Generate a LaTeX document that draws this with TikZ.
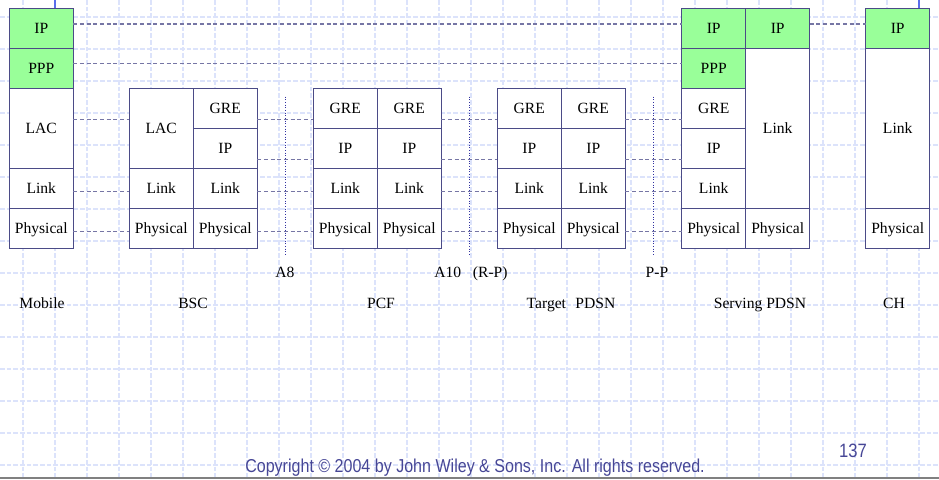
\documentclass[tikz,border=0pt]{standalone}
\usepackage{fontspec}
\setmainfont{Liberation Serif}
\newfontfamily\copyfont[FakeStretch=0.86]{Liberation Sans}
\usetikzlibrary{positioning}

\definecolor{boxline}{RGB}{75,75,135}
\definecolor{ipgreen}{RGB}{153,255,153}
\definecolor{linkgray}{RGB}{118,118,165}
\definecolor{ifblue}{RGB}{50,50,160}
\definecolor{gridblue}{RGB}{220,227,251}
\definecolor{topblue}{RGB}{90,110,235}
\definecolor{copyblue}{RGB}{70,70,150}

\begin{document}
\begin{tikzpicture}[
  x=0.75pt, y=-0.75pt,
  font=\rmfamily\fontsize{11.7}{14}\selectfont,
  stackbox/.style={draw=boxline, fill=white, line width=0.9pt, minimum width=48pt,
    minimum height=30pt, inner sep=0pt, outer sep=0pt, text height=7.7pt, text depth=0pt,
    font=\rmfamily\fontsize{11.7}{14}\selectfont},
  greenbox/.style={stackbox, fill=ipgreen},
  tallbox/.style={stackbox, minimum height=60pt},
  deepbox/.style={stackbox, minimum height=120pt},
  peer/.style={draw=linkgray, line width=0.95pt, dash pattern=on 3pt off 2pt},
  iface/.style={draw=ifblue, line width=0.7pt, dash pattern=on 0.7pt off 1.3pt},
  gridline/.style={draw=gridblue, line width=1.2pt, dash pattern=on 3.5pt off 1.5pt}
]
\useasboundingbox (0,0) rectangle (939,479);

% background grid
\foreach \gx in {0,...,28}
  \draw[gridline] (22.7+32*\gx,0) -- (22.7+32*\gx,479);
\foreach \gy in {0,...,14}
  \draw[gridline] (0,17+32*\gy) -- (939,17+32*\gy);
\draw[topblue, line width=1.5pt] (54.5,0) -- (54.5,8);
\draw[topblue, line width=1.5pt] (919,0) -- (919,8);
\draw[gray, line width=1.5pt] (0,478) -- (939,478);

% Mobile
\node[greenbox] (mIP) at (41.3,28.3) {IP};
\node[greenbox, below=0pt of mIP] (mPPP) {PPP};
\node[tallbox, below=0pt of mPPP] (mLAC) {LAC};
\node[stackbox, below=0pt of mLAC] (mLink) {Link};
\node[stackbox, below=0pt of mLink] (mPhy) {Physical};

% BSC
\node[tallbox] (bLAC) at (161.3,128.3) {LAC};
\node[stackbox, anchor=north west] (bGRE) at (bLAC.north east) {GRE};
\node[stackbox, below=0pt of bGRE] (bIP) {IP};
\node[stackbox, below=0pt of bLAC] (bLink1) {Link};
\node[stackbox, below=0pt of bIP] (bLink2) {Link};
\node[stackbox, below=0pt of bLink1] (bPhy1) {Physical};
\node[stackbox, below=0pt of bLink2] (bPhy2) {Physical};

% PCF
\node[stackbox] (pGRE1) at (345.3,108.3) {GRE};
\node[stackbox, right=0pt of pGRE1] (pGRE2) {GRE};
\node[stackbox, below=0pt of pGRE1] (pIP1) {IP};
\node[stackbox, below=0pt of pGRE2] (pIP2) {IP};
\node[stackbox, below=0pt of pIP1] (pLink1) {Link};
\node[stackbox, below=0pt of pIP2] (pLink2) {Link};
\node[stackbox, below=0pt of pLink1] (pPhy1) {Physical};
\node[stackbox, below=0pt of pLink2] (pPhy2) {Physical};

% Target PDSN
\node[stackbox] (tGRE1) at (529.3,108.3) {GRE};
\node[stackbox, right=0pt of tGRE1] (tGRE2) {GRE};
\node[stackbox, below=0pt of tGRE1] (tIP1) {IP};
\node[stackbox, below=0pt of tGRE2] (tIP2) {IP};
\node[stackbox, below=0pt of tIP1] (tLink1) {Link};
\node[stackbox, below=0pt of tIP2] (tLink2) {Link};
\node[stackbox, below=0pt of tLink1] (tPhy1) {Physical};
\node[stackbox, below=0pt of tLink2] (tPhy2) {Physical};

% Serving PDSN
\node[greenbox] (sIP1) at (713.7,28.3) {IP};
\node[greenbox, right=0pt of sIP1] (sIP2) {IP};
\node[greenbox, below=0pt of sIP1] (sPPP) {PPP};
\node[stackbox, below=0pt of sPPP] (sGRE) {GRE};
\node[stackbox, below=0pt of sGRE] (sIP) {IP};
\node[stackbox, below=0pt of sIP] (sLink1) {Link};
\node[deepbox, below=0pt of sIP2] (sLink2) {Link};
\node[stackbox, below=0pt of sLink1] (sPhy1) {Physical};
\node[stackbox, below=0pt of sLink2] (sPhy2) {Physical};

% CH
\node[greenbox] (cIP) at (897.7,28.3) {IP};
\node[deepbox, below=0pt of cIP] (cLink) {Link};
\node[stackbox, below=0pt of cLink] (cPhy) {Physical};

% peer layers
\draw[peer] ([yshift=3.2pt]mIP.east) -- ([yshift=3.2pt]sIP1.west);
\draw[peer] ([yshift=3.2pt]sIP2.east) -- ([yshift=3.2pt]cIP.west);
\draw[peer] ([yshift=3.75pt]mPPP.east) -- ([yshift=3.75pt]sPPP.west);
\draw[peer] ([yshift=6.75pt]mLAC.east) -- ([yshift=6.75pt]bLAC.west);
\draw[peer] ([yshift=-8.25pt]bGRE.east) -- ([yshift=-8.25pt]pGRE1.west);
\draw[peer] ([yshift=-8.25pt]pGRE2.east) -- ([yshift=-8.25pt]tGRE1.west);
\draw[peer] ([yshift=-8.25pt]tGRE2.east) -- ([yshift=-8.25pt]sGRE.west);
\draw[peer] ([yshift=-8.4pt]bIP.east) -- ([yshift=-8.4pt]pIP1.west);
\draw[peer] ([yshift=-8.4pt]pIP2.east) -- ([yshift=-8.4pt]tIP1.west);
\draw[peer] ([yshift=-8.4pt]tIP2.east) -- ([yshift=-8.4pt]sIP.west);
\draw[peer] ([yshift=-2.5pt]mLink.east) -- ([yshift=-2.5pt]bLink1.west);
\draw[peer] ([yshift=-2.5pt]bLink2.east) -- ([yshift=-2.5pt]pLink1.west);
\draw[peer] ([yshift=-2.5pt]pLink2.east) -- ([yshift=-2.5pt]tLink1.west);
\draw[peer] ([yshift=-2.5pt]tLink2.east) -- ([yshift=-2.5pt]sLink1.west);
\draw[peer] ([yshift=-2.25pt]mPhy.east) -- ([yshift=-2.25pt]bPhy1.west);
\draw[peer] ([yshift=-2.25pt]bPhy2.east) -- ([yshift=-2.25pt]pPhy1.west);
\draw[peer] ([yshift=-2.25pt]pPhy2.east) -- ([yshift=-2.25pt]tPhy1.west);
\draw[peer] ([yshift=-2.25pt]tPhy2.east) -- ([yshift=-2.25pt]sPhy1.west);

% interfaces
\draw[iface] (285.7,96.5) -- (285.7,254.5);
\draw[iface] (469.3,96.5) -- (469.3,254.5);
\draw[iface] (653.3,96.5) -- (653.3,254.5);
\node[anchor=base] (a8) at (285,277) {A8};
\node[anchor=base] (a10) at (471,277) {A10\hspace{0.75em}(R-P)};
\node[anchor=base] (pp) at (657,277) {P-P};

% entities
\node[anchor=base] (mobile) at (42,308.5) {Mobile};
\node[anchor=base] (bsc) at (193,308.5) {BSC};
\node[anchor=base] (pcf) at (381,308.5) {PCF};
\node[anchor=base] (target) at (571,308.5) {Target\hspace{0.6em}PDSN};
\node[anchor=base] (serving) at (760,308.5) {Serving PDSN};
\node[anchor=base] (ch) at (894,308.5) {CH};

\node[anchor=base, text=copyblue, font=\copyfont\fontsize{14.5}{17}\selectfont] (page) at (853,457) {137};
\node[anchor=base, text=copyblue, font=\copyfont\fontsize{14}{16}\selectfont] (copy) at (475,472.5)
  {Copyright © 2004 by John Wiley \& Sons, Inc. All rights reserved.};
\end{tikzpicture}
\end{document}
